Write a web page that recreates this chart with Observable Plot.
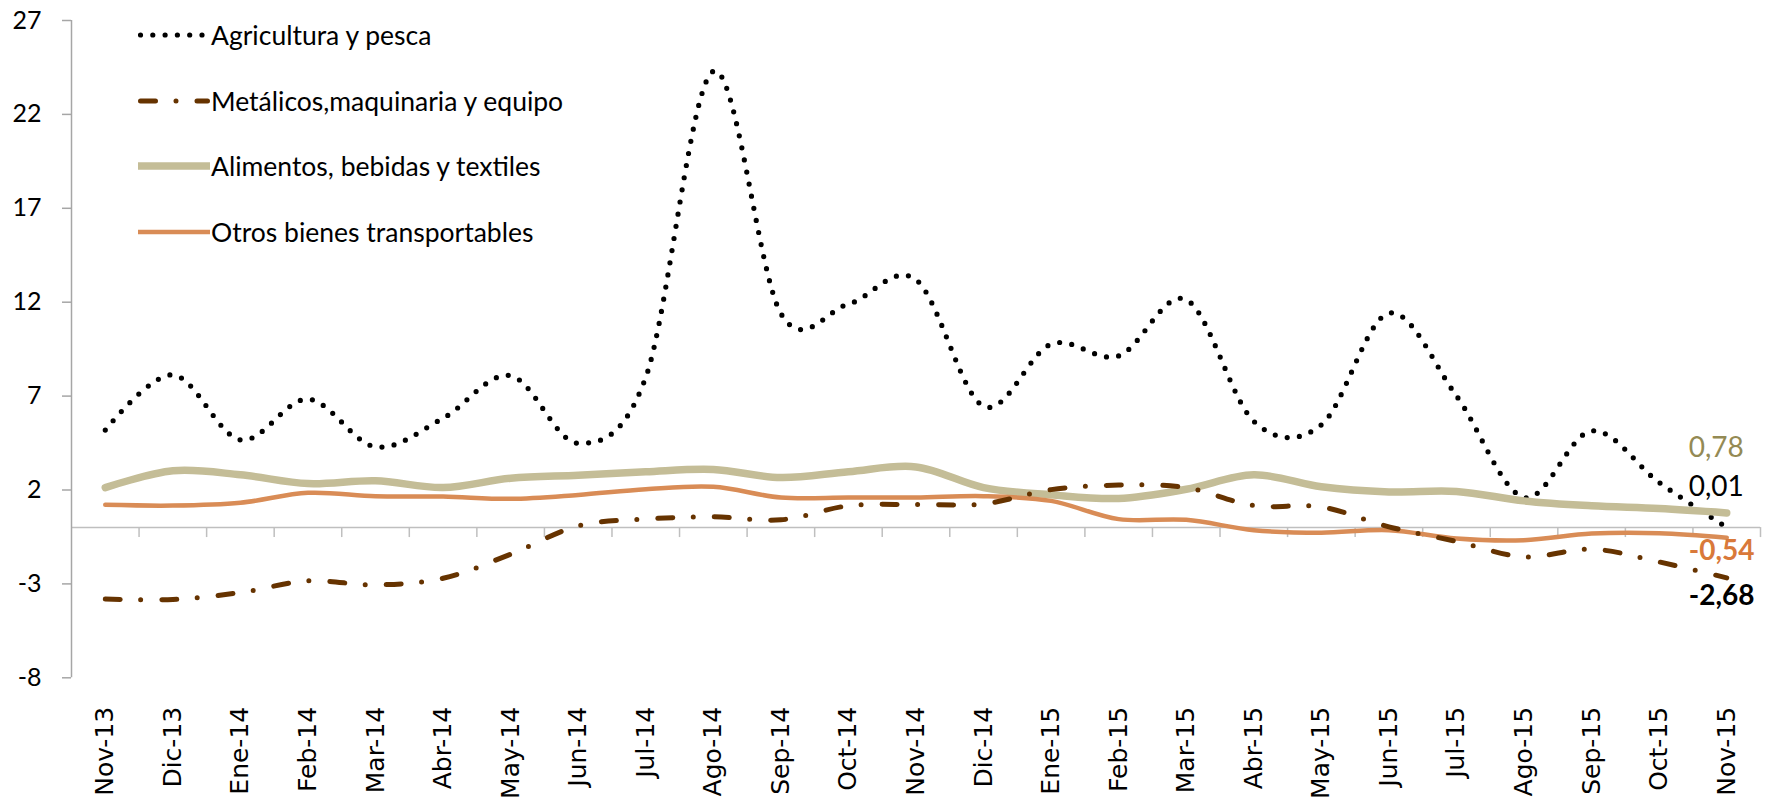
<!DOCTYPE html>
<html><head><meta charset="utf-8">
<script src="https://cdn.jsdelivr.net/npm/d3@7"></script>
<script src="https://cdn.jsdelivr.net/npm/@observablehq/plot@0.6"></script>
<style>
html,body{margin:0;padding:0;background:#fff;}
#wrap{position:relative;width:1770px;height:806px;}
#legend{position:absolute;left:138px;top:0;font-family:Lato, "Open Sans", sans-serif;font-size:26.5px;color:#000;}
.item{position:absolute;left:0;display:flex;align-items:center;white-space:nowrap;height:40px;}
.item svg{margin-right:1px;display:block}
</style></head><body>
<div id="wrap"><div id="chart"></div><div id="legend"></div></div>
<script>
const months = ["Nov-13","Dic-13","Ene-14","Feb-14","Mar-14","Abr-14","May-14","Jun-14","Jul-14","Ago-14","Sep-14","Oct-14","Nov-14","Dic-14","Ene-15","Feb-15","Mar-15","Abr-15","May-15","Jun-15","Jul-15","Ago-15","Sep-15","Oct-15","Nov-15"];
const seriesNames = ["Agricultura y pesca","Metálicos,maquinaria y equipo","Alimentos, bebidas y textiles","Otros bienes transportables"];
const agricultura = [5.19,8.13,4.67,6.84,4.30,5.82,8.09,4.49,8.0,24.3,11.4,11.9,13.2,6.46,9.77,9.14,12.14,5.66,5.47,11.42,7.01,1.6,5.15,2.4,0.01];
const metalicos = [-3.81,-3.83,-3.46,-2.84,-3.05,-2.70,-1.42,0.09,0.45,0.57,0.41,1.16,1.23,1.26,2.02,2.26,2.13,1.17,1.10,0.04,-0.74,-1.56,-1.15,-1.83,-2.68];
const alimentos = [2.13,3.02,2.81,2.34,2.49,2.13,2.63,2.79,2.97,3.09,2.66,2.97,3.23,2.13,1.74,1.55,2.04,2.81,2.17,1.90,1.92,1.42,1.16,1.01,0.78];
const otros = [1.21,1.17,1.32,1.85,1.67,1.65,1.53,1.74,2.04,2.17,1.60,1.60,1.60,1.67,1.42,0.45,0.41,-0.14,-0.27,-0.14,-0.58,-0.67,-0.32,-0.30,-0.54];
const yTicks = [-8,-3,2,7,12,17,22,27];
const endLabels = ["0,01","-2,68","0,78","-0,54"];

const styles = [
  {stroke:"#000000", strokeWidth:5.2, strokeDasharray:"0 12.3", strokeLinecap:"round"},
  {stroke:"#663300", strokeWidth:5, strokeDasharray:"15 20.5 0 21", strokeLinecap:"round"},
  {stroke:"#C4BD97", strokeWidth:7.5, strokeDasharray:null, strokeLinecap:"round"},
  {stroke:"#D98C56", strokeWidth:4.5, strokeDasharray:null, strokeLinecap:"round"}
];
const seriesValues = [agricultura, metalicos, alimentos, otros];
const data = seriesValues.map(vals => vals.map((v,i)=>({i, v})));
const last = months.length - 1;
const labelStyle = [
  {color:"#000000", weight:"normal", dy:-40},
  {color:"#000000", weight:"bold", dy:18},
  {color:"#948A54", weight:"normal", dy:-65},
  {color:"#D9793A", weight:"bold", dy:13}
];
const labelData = seriesValues.map((vals,k)=>({i:last, v:vals[last], label:endLabels[k], ...labelStyle[k]}));
const boundaries = d3.range(months.length).map(i => i + 0.5);

const lineMarks = [0,2,3,1].map(k => Plot.line(data[k], {
  x:"i", y:"v", curve:"cardinal",
  stroke: styles[k].stroke, strokeWidth: styles[k].strokeWidth,
  strokeDasharray: styles[k].strokeDasharray || undefined,
  strokeLinecap: styles[k].strokeLinecap, strokeLinejoin:"round"
}));

const chart = Plot.plot({
  width:1770, height:806,
  marginLeft:71, marginRight:10, marginTop:20, marginBottom:128.7,
  style:{fontFamily:"Lato, sans-serif", background:"#fff", color:"#000"},
  x:{type:"linear", domain:[-0.5, last+0.5]},
  y:{type:"linear", domain:[yTicks[0], yTicks[yTicks.length-1]]},
  marks:[
    Plot.ruleY([0], {stroke:"#bfbfbf", strokeWidth:1.5}),
    Plot.ruleX(boundaries, {y1:0, y2:0, insetBottom:-10, stroke:"#bfbfbf", strokeWidth:1.5}),
    Plot.ruleX([-0.5], {stroke:"#a6a6a6", strokeWidth:1.5}),
    Plot.axisY({ticks:yTicks, tickSize:9, tickPadding:21, stroke:"#a6a6a6", strokeWidth:1.5, fontSize:25, fontFamily:"Lato", fill:"#000", label:null, tickFormat:d=>String(d)}),
    Plot.axisX({ticks:d3.range(months.length), tickFormat:i=>months[i], tickRotate:-90, tickSize:0, tickPadding:29, fontSize:25, fontFamily:"DejaVu Sans", fill:"#000", label:null, anchor:"bottom"}),
    ...lineMarks,
    ...labelData.map(d => Plot.text([d], {x:"i", y:"v", text:"label", dx:-38, dy:d.dy, textAnchor:"start", lineAnchor:"middle", fill:d.color, fontWeight:d.weight, fontSize:28, fontFamily:"Lato"}))
  ]
});
document.getElementById("chart").appendChild(chart);

// legend
const legend = d3.select("#legend");
const rowCenters = [35, 100.5, 166, 231.5];
seriesNames.forEach((name,k)=>{
  const item = legend.append("div").attr("class","item").style("top", (rowCenters[k]-20)+"px");
  const svg = item.append("svg").attr("width",72).attr("height",12);
  const s = styles[k];
  const x1 = s.strokeDasharray ? 2.5 : 0, x2 = s.strokeDasharray ? 69.5 : 72;
  svg.append("line").attr("x1",x1).attr("x2",x2).attr("y1",6).attr("y2",6)
    .attr("stroke",s.stroke).attr("stroke-width",s.strokeWidth)
    .attr("stroke-dasharray",s.strokeDasharray).attr("stroke-linecap", s.strokeDasharray ? "round" : "butt");
  item.append("span").text(name);
});
</script>
</body></html>
